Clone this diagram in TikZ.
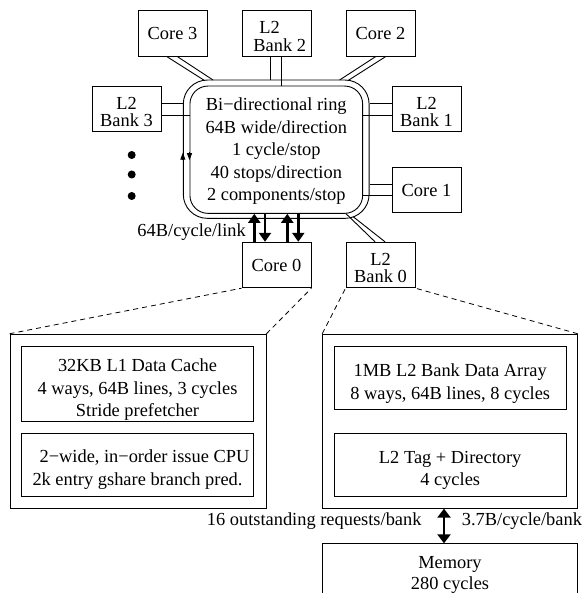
\documentclass[tikz,border=0pt]{standalone}
\usepackage{fontspec}
\setmainfont{Liberation Serif}
\usetikzlibrary{arrows.meta,calc}
\newcommand\upstrut[1]{\rule{0pt}{#1}}

\begin{document}
\begin{tikzpicture}[x=1pt,y=-1pt,
  every node/.style={font=\fontsize{18.4}{22.5}\selectfont},
  box/.style={draw,line width=0.9pt,rectangle,inner sep=0pt,align=center},
  smallbox/.style={box,minimum width=69pt,minimum height=45.5pt},
  link/.style={line width=0.9pt},
  dashlink/.style={line width=0.8pt,dash pattern=on 5pt off 4pt},
  bus/.style={line width=2.8pt,-{Triangle[length=9pt,width=12pt]}},
  busboth/.style={line width=2.8pt,{Triangle[length=9pt,width=13pt]}-{Triangle[length=9pt,width=13pt]}},
  dirtip/.style={line width=0.9pt,-{Triangle[length=7pt,width=5pt]}},
]
\clip (0,0) rectangle (584,593);

% ---- ring ----
\node[draw,line width=0.9pt,rounded corners=24pt,minimum width=185.8pt,minimum height=138.3pt,inner sep=0pt] (ringout) at (276.2,149.2) {};
\node[draw,line width=0.9pt,rounded corners=18pt,minimum width=172.7pt,minimum height=127.3pt,inner sep=0pt,align=center] (ringin) at (276.3,149.7)
  {\upstrut{16.5pt}Bi−directional ring\\64B wide/direction\\1 cycle/stop\\40 stops/direction\\2 components/stop};

% ---- ring stops ----
\node[smallbox] (core3) at (172.5,33.5) {Core 3};
\node[smallbox] (l2b2) at (276.5,33.5) {\upstrut{18pt}L2\hspace*{13.6pt}\\[-5pt]\hspace*{6.4pt}Bank 2};
\node[smallbox] (core2) at (380.5,33.5) {Core 2};
\node[smallbox] (l2b3) at (126.5,109) {\upstrut{18pt}L2\\[-5pt]Bank 3};
\node[smallbox] (l2b1) at (426.5,109) {\upstrut{18pt}L2\\[-5pt]Bank 1};
\node[smallbox] (core1) at (426.5,190) {Core 1};
\node[smallbox] (core0) at (276.5,265) {Core 0};
\node[smallbox] (l2b0) at (380.5,265) {\upstrut{18pt}L2\\[-5pt]Bank 0};

% straight links: one line to the outer ring, one to the inner ring
\draw[link] ([xshift=-5.8pt]l2b2.south) -- ([xshift=-5.8pt]l2b2.south |- ringout.north);
\draw[link] ([xshift=5.2pt]l2b2.south) -- ([xshift=5.2pt]l2b2.south |- ringin.north);

\coordinate (b3a) at ($(l2b3.east)+(0,-6)$);
\coordinate (b3b) at ($(l2b3.east)+(0,6.5)$);
\draw[link] (b3a) -- (b3a -| ringout.west);
\draw[link] (b3b) -- (b3b -| ringin.west);

\coordinate (b1a) at ($(l2b1.west)+(0,-6)$);
\coordinate (b1b) at ($(l2b1.west)+(0,6.5)$);
\draw[link] (b1a) -- (b1a -| ringout.east);
\draw[link] (b1b) -- (b1b -| ringin.east);

\coordinate (c1a) at ($(core1.west)+(0,-5.7)$);
\coordinate (c1b) at ($(core1.west)+(0,5.7)$);
\draw[link] (c1a) -- (c1a -| ringout.east);
\draw[link] (c1b) -- (c1b -| ringin.east);

% diagonal links to the ring corners
\coordinate (r3a) at (204.5,80.5);
\coordinate (r3b) at (213,80);
\draw[link] ($(core3.south)+(-5.5,0)$) -- (r3a);
\draw[link] ($(core3.south)+(5,0)$) -- (r3b);

\coordinate (r2a) at (339.6,80);
\coordinate (r2b) at (348.1,80.5);
\draw[link] ($(core2.south)+(-5,0)$) -- (r2a);
\draw[link] ($(core2.south)+(5,0)$) -- (r2b);

\coordinate (r0a) at (345.7,213.4);
\coordinate (r0b) at (353.3,216.8);
\draw[link] ($(l2b0.north)+(-5.5,0)$) -- (r0a);
\draw[link] ($(l2b0.north)+(4.5,0)$) -- (r0b);

% Core 0 links: 64B per cycle each way
\coordinate (u1) at ($(core0.north)+(-22.2,0)$);
\coordinate (d1) at ($(core0.north)+(-11.5,0)$);
\coordinate (u2) at ($(core0.north)+(10.8,0)$);
\coordinate (d2) at ($(core0.north)+(21.8,0)$);
\draw[bus] (u1) -- (u1 |- ringin.south);
\draw[bus] (d1 |- ringin.south) -- (d1);
\draw[bus] (u2) -- (u2 |- ringin.south);
\draw[bus] (d2 |- ringin.south) -- (d2);
\node[anchor=base east,inner sep=0pt] (linklbl) at (246,236.7) {64B/cycle/link};

% ring direction marks
\draw[dirtip] ($(ringout.west)+(0,11)$) -- ($(ringout.west)+(0,3.5)$);
\draw[dirtip] ($(ringin.west)+(0,2.5)$) -- ($(ringin.west)+(0,10.5)$);

% more stops
\fill (131.7,155) circle (4);
\fill (131.7,174.5) circle (4);
\fill (131.7,196) circle (4);

% ---- core detail ----
\node[box,minimum width=256pt,minimum height=174pt] (coredet) at (138,421.2) {};
\node[box,minimum width=231.6pt,minimum height=75.7pt] (l1) at (137.5,383.8)
  {\upstrut{25pt}32KB L1 Data Cache\\4 ways, 64B lines, 3 cycles\\Stride prefetcher};
\node[box,minimum width=231.6pt,minimum height=63.4pt] (cpu) at (137.5,465)
  {\upstrut{22pt}\hspace*{14pt}2−wide, in−order issue CPU\\2k entry gshare branch pred.};
\draw[dashlink] (coredet.north west) -- (core0.south west);
\draw[dashlink] (coredet.north east) -- (core0.south east);

% ---- L2 bank detail ----
\node[box,minimum width=254.6pt,minimum height=174pt] (bankdet) at (450,421.2) {};
\node[box,minimum width=231.7pt,minimum height=63.3pt] (l2data) at (450.2,377.7)
  {\upstrut{25pt}1MB L2 Bank Data Array\\8 ways, 64B lines, 8 cycles};
\node[box,minimum width=231.7pt,minimum height=63.4pt] (l2tag) at (450.2,465)
  {\upstrut{23pt}L2 Tag + Directory\\4 cycles};
\draw[dashlink] (bankdet.north west) -- (l2b0.south west);
\draw[dashlink] (bankdet.north east) -- (l2b0.south east);

% ---- memory ----
\node[box,anchor=north,minimum width=254.6pt,minimum height=62pt] (mem) at (450,543.3)
  {Memory\\[-1pt]280 cycles};
\draw[busboth] ($(bankdet.south)+(-6,0)$) -- ($(mem.north)+(-6,0)$);
\node[anchor=base east,inner sep=0pt] (reqlbl) at (421.7,525) {16 outstanding requests/bank};
\node[anchor=base west,inner sep=0pt] (bwlbl) at (461.7,525) {3.7B/cycle/bank};
\end{tikzpicture}
\end{document}
